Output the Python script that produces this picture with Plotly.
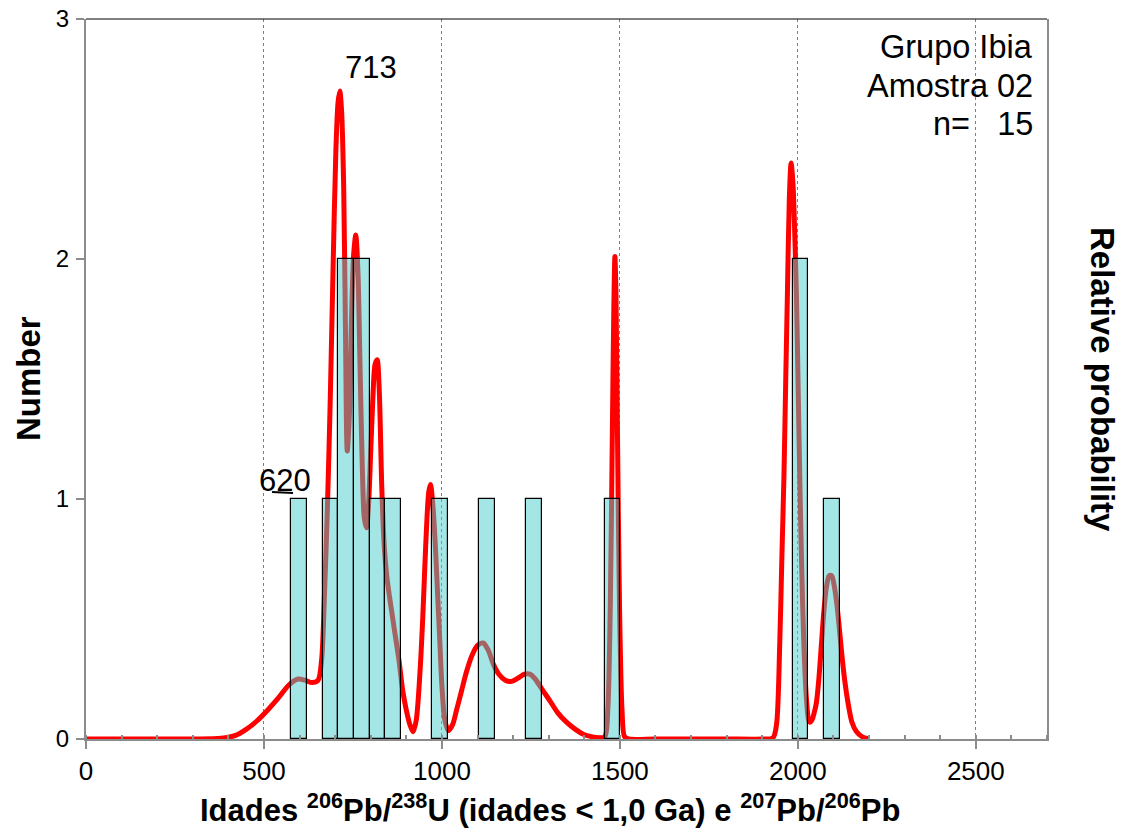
import plotly.graph_objects as go

# ---------------- data ----------------
# histogram bins (bin width 44 Ma): centres and counts
bin_centers = [599, 687, 731, 775, 819, 863, 995, 1127, 1259, 1479, 2007, 2095]
bin_counts = [1, 1, 2, 2, 1, 1, 1, 1, 1, 1, 2, 1]
bin_width = 44

# relative probability curve (in "Number" units)
curve_x = [0, 100, 200, 300, 380, 420, 450, 480, 510, 540, 570, 596, 615, 635, 652,
           662, 670, 678, 686, 694, 702, 708, 713, 718, 724, 729, 734, 740, 746, 752,
           758, 764, 770, 776, 782, 788, 794, 800, 806, 812, 818, 824, 831, 838, 845,
           852, 860, 870, 880, 890, 900, 910, 919, 928, 938, 946, 952, 958, 963, 968,
           973, 978, 983, 988, 994, 1000, 1008, 1018, 1030, 1041, 1055, 1069, 1085, 1100, 1116,
           1130, 1145, 1160, 1178, 1196, 1215, 1232, 1247, 1262, 1280, 1303, 1325, 1350, 1375, 1397,
           1420, 1444, 1458, 1466, 1473, 1479, 1483, 1486, 1489, 1493, 1499, 1506, 1513, 1525, 1600,
           1700, 1800, 1900, 1930, 1940, 1949, 1955, 1961, 1966, 1971, 1976, 1981, 1986, 1991, 1996,
           2001, 2006, 2011, 2017, 2024, 2030, 2034, 2040, 2046, 2052, 2059, 2066, 2073, 2080, 2088,
           2095, 2102, 2109, 2116, 2123, 2132, 2141, 2152, 2165, 2180, 2200]
curve_y = [0, 0, 0, 0, 0.003, 0.015, 0.04, 0.075, 0.12, 0.17, 0.225, 0.25, 0.245, 0.235, 0.245,
           0.33, 0.6, 0.95, 1.4, 1.95, 2.45, 2.65, 2.70, 2.62, 2.3, 1.7, 1.2, 1.35, 1.75, 2.02,
           2.10, 1.95, 1.55, 1.15, 0.92, 0.88, 0.98, 1.2, 1.42, 1.56, 1.58, 1.45, 1.05, 0.8, 0.68,
           0.6, 0.52, 0.42, 0.32, 0.2, 0.12, 0.06, 0.03, 0.08, 0.27, 0.5, 0.72, 0.92, 1.03, 1.06,
           1.0, 0.9, 0.76, 0.6, 0.41, 0.22, 0.08, 0.035, 0.06, 0.12, 0.2, 0.28, 0.35, 0.39, 0.40,
           0.37, 0.31, 0.27, 0.245, 0.24, 0.255, 0.27, 0.27, 0.25, 0.21, 0.16, 0.11, 0.07, 0.04, 0.02,
           0.01, 0.005, 0.01, 0.12, 0.55, 1.3, 1.8, 2.01, 1.85, 1.3, 0.55, 0.12, 0.01, 0, 0,
           0, 0, 0, 0.005, 0.06, 0.39, 0.75, 1.1, 1.5, 1.88, 2.25, 2.40, 2.32, 2.12, 1.85,
           1.45, 1.04, 0.7, 0.39, 0.17, 0.08, 0.07, 0.08, 0.11, 0.15, 0.25, 0.39, 0.53, 0.63, 0.68,
           0.68, 0.64, 0.57, 0.47, 0.36, 0.24, 0.15, 0.07, 0.03, 0.01, 0.0]

x_ticks = [0, 500, 1000, 1500, 2000, 2500]
y_ticks = [0, 1, 2, 3]

info_lines = ["Grupo Ibia", "Amostra 02", "n=&nbsp;&nbsp;&nbsp;15"]
peak_labels = ["713", "620"]

FONT = "Liberation Sans, Arial, sans-serif"
AXIS_GRAY = "#8c8c8c"

fig = go.Figure()

# curve on the main (right-side, relative probability) axis
fig.add_trace(go.Scatter(
    x=curve_x, y=curve_y, mode="lines",
    line=dict(color="#ff0000", width=5, shape="spline", smoothing=0.8),
    yaxis="y", hoverinfo="skip", showlegend=False,
))

# histogram bars on the overlaying "Number" axis (drawn on top of the curve)
fig.add_trace(go.Bar(
    x=bin_centers, y=bin_counts, width=bin_width,
    marker=dict(color="rgba(69,204,204,0.49)", line=dict(color="#000000", width=1.2)),
    yaxis="y2", showlegend=False,
))

# plot area occupies screen pixels x 86..1047, y 19..739
def px(xs):
    return (xs - 86) / 961.0

def py(ys):
    return (739 - ys) / 720.0

fig.update_layout(
    width=1132, height=834,
    margin=dict(l=78, r=93, t=11, b=103, autoexpand=False),
    paper_bgcolor="white", plot_bgcolor="white",
    font=dict(family=FONT, color="black"),
    bargap=0,
    xaxis=dict(
        range=[0, 2700], tickvals=x_ticks, ticks="outside", ticklen=8, tickwidth=1.5,
        tickcolor=AXIS_GRAY, tickfont=dict(size=26), ticklabelstandoff=0,
        showline=True, linecolor=AXIS_GRAY, linewidth=2,
        showgrid=True, gridcolor="#7f7f7f", gridwidth=1, griddash="dot",
        zeroline=False, automargin=False, ticklabeloverflow="allow",
        minor=dict(ticks="inside", dtick=100, ticklen=4, tickcolor=AXIS_GRAY, showgrid=False),
        anchor="y",
    ),
    yaxis=dict(
        range=[0, 3], side="right", showticklabels=False, ticks="",
        showline=True, linecolor=AXIS_GRAY, linewidth=1.5,
        showgrid=False, zeroline=False, automargin=False,
    ),
    yaxis2=dict(
        range=[0, 3], overlaying="y", side="left", tickvals=y_ticks,
        ticks="outside", ticklen=8, tickwidth=1.5, tickcolor=AXIS_GRAY,
        tickfont=dict(size=24), ticklabelstandoff=2, ticklabeloverflow="allow",
        showline=True, linecolor=AXIS_GRAY, linewidth=2,
        showgrid=False, zeroline=False, automargin=False,
    ),
    shapes=[
        dict(type="line", xref="paper", yref="paper", x0=0, x1=1, y0=1, y1=1,
             line=dict(color="#000000", width=1)),
        # white label box behind "620" hiding part of the 500 gridline
        dict(type="rect", xref="paper", yref="paper", layer="between",
             x0=px(259), x1=px(313), y0=py(492), y1=py(437),
             fillcolor="white", line=dict(width=0)),
        # small leader dash under the "620" label
        dict(type="line", xref="paper", yref="paper",
             x0=px(272), x1=px(293), y0=py(492), y1=py(493),
             line=dict(color="#000000", width=2)),
    ],
)

annotations = [
    dict(text=info_lines[0], xref="paper", yref="paper", x=px(1035), y=py(47),
         xanchor="right", yanchor="middle", showarrow=False, font=dict(size=32.5)),
    dict(text=info_lines[1], xref="paper", yref="paper", x=px(1035), y=py(86),
         xanchor="right", yanchor="middle", showarrow=False, font=dict(size=32.5)),
    dict(text=info_lines[2], xref="paper", yref="paper", x=px(1035), y=py(124),
         xanchor="right", yanchor="middle", showarrow=False, font=dict(size=32.5)),
    dict(text=peak_labels[0], xref="paper", yref="paper", x=px(371), y=py(68),
         xanchor="center", yanchor="middle", showarrow=False, font=dict(size=31)),
    dict(text=peak_labels[1], xref="paper", yref="paper", x=px(285), y=py(481),
         xanchor="center", yanchor="middle", showarrow=False, font=dict(size=31)),
    dict(text="<b>Number</b>", xref="paper", yref="paper", x=px(28), y=py(379),
         xanchor="center", yanchor="middle",
         textangle=-90, showarrow=False, font=dict(size=33)),
    dict(text="<b>Relative probability</b>", xref="paper", yref="paper", x=px(1103), y=py(379),
         xanchor="center", yanchor="middle",
         textangle=90, showarrow=False, font=dict(size=33)),
    dict(text="<b>Idades <sup>206</sup>Pb/<sup>238</sup>U (idades &lt; 1,0 Ga) e <sup>207</sup>Pb/<sup>206</sup>Pb</b>",
         xref="paper", yref="paper", x=px(550), y=py(808), xanchor="center", yanchor="middle",
         showarrow=False, font=dict(size=31)),
]
fig.update_layout(annotations=annotations)

fig.write_html("out.html")
